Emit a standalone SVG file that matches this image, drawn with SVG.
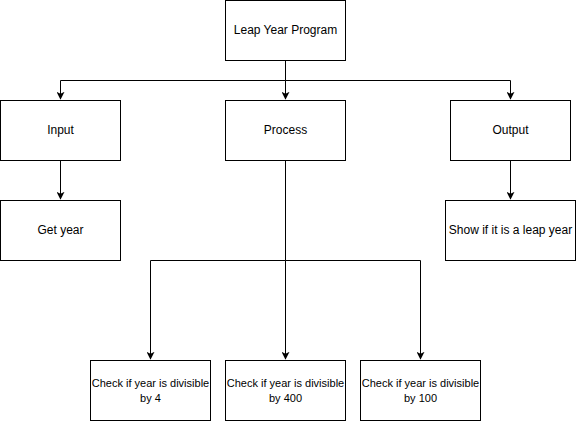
<svg xmlns="http://www.w3.org/2000/svg" width="576" height="421" viewBox="0 0 576 421">
<style>
.box{fill:#fff;stroke:#000;stroke-width:1}
.t{font-family:"Liberation Sans",Arial,sans-serif;font-size:12px;fill:#000;text-anchor:middle}
.s{font-size:11px}
.c{fill:none;stroke:#000;stroke-width:1}
</style>
<defs>
<marker id="a" viewBox="0 0 10 10" refX="9" refY="5" markerWidth="8" markerHeight="8" markerUnits="userSpaceOnUse" orient="auto">
<path d="M0,0 L10,5 L0,10 L2.5,5 Z" fill="#000"/>
</marker>
</defs>
<rect width="576" height="421" fill="#fff"/>
<g id="connectors">
<path class="c" d="M285.5,60 V80.5 H60.5 V99" marker-end="url(#a)"/>
<path class="c" d="M285.5,80.5 V99" marker-end="url(#a)"/>
<path class="c" d="M285.5,80.5 H510.5 V99" marker-end="url(#a)"/>
<path class="c" d="M60.5,160 V199" marker-end="url(#a)"/>
<path class="c" d="M510.5,160 V199" marker-end="url(#a)"/>
<path class="c" d="M285.5,160 V260.5 H150.5 V359" marker-end="url(#a)"/>
<path class="c" d="M285.5,260.5 V359" marker-end="url(#a)"/>
<path class="c" d="M285.5,260.5 H420.5 V359" marker-end="url(#a)"/>
</g>
<g id="top"><rect class="box" x="225.5" y="0.5" width="120" height="60"/><text class="t" x="285.5" y="34">Leap Year Program</text></g>
<g id="input"><rect class="box" x="0.5" y="100.5" width="120" height="60"/><text class="t" x="60.5" y="134">Input</text></g>
<g id="process"><rect class="box" x="225.5" y="100.5" width="120" height="60"/><text class="t" x="285.5" y="134">Process</text></g>
<g id="output"><rect class="box" x="450.5" y="100.5" width="120" height="60"/><text class="t" x="510.5" y="134">Output</text></g>
<g id="getyear"><rect class="box" x="0.5" y="200.5" width="120" height="60"/><text class="t" x="60.5" y="234">Get year</text></g>
<g id="show"><rect class="box" x="445.5" y="200.5" width="130" height="60"/><text class="t" x="510.5" y="234">Show if it is a leap year</text></g>
<g id="div4"><rect class="box" x="90.5" y="360.5" width="120" height="60"/><text class="t s" x="150.5" y="387">Check if year is divisible</text><text class="t s" x="150.5" y="402">by 4</text></g>
<g id="div400"><rect class="box" x="225.5" y="360.5" width="120" height="60"/><text class="t s" x="285.5" y="387">Check if year is divisible</text><text class="t s" x="285.5" y="402">by 400</text></g>
<g id="div100"><rect class="box" x="360.5" y="360.5" width="120" height="60"/><text class="t s" x="420.5" y="387">Check if year is divisible</text><text class="t s" x="420.5" y="402">by 100</text></g>
</svg>
